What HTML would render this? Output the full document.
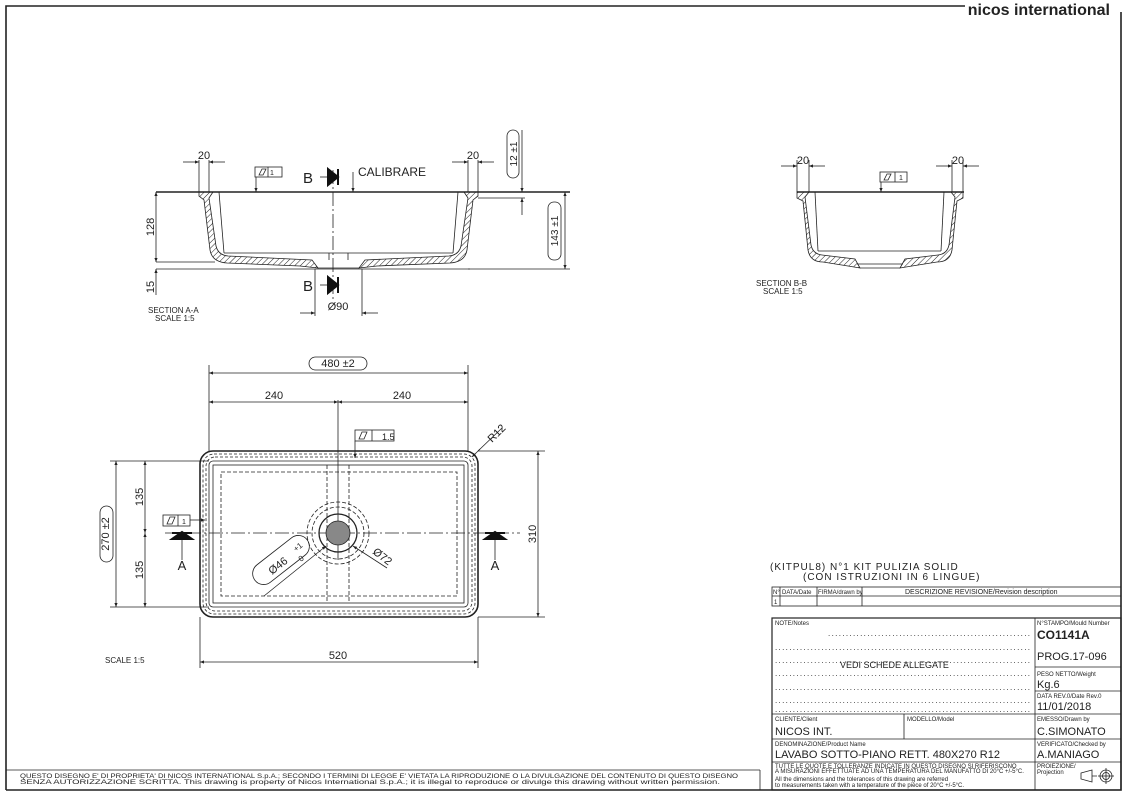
<!DOCTYPE html>
<html><head><meta charset="utf-8"><style>
html,body{margin:0;padding:0;background:#fff;}
svg{display:block;font-family:"Liberation Sans",sans-serif;}
text{fill:#222;}
.t{font-size:11px;}
.s{font-size:6px;}
</style></head><body>
<svg width="1129" height="798" viewBox="0 0 1129 798" xmlns="http://www.w3.org/2000/svg">
<defs>
<pattern id="h" width="4" height="4" patternUnits="userSpaceOnUse" patternTransform="rotate(45)"><line x1="0" y1="0" x2="0" y2="4" stroke="#222" stroke-width="1"/></pattern>
<marker id="a" viewBox="0 0 10 10" refX="10" refY="5" markerWidth="7" markerHeight="5" orient="auto-start-reverse"><path d="M0,1 L10,5 L0,9z" fill="#222"/></marker>
</defs>
<g stroke="#222" fill="none">
<path d="M6,790 V6 H965 M1121,12 V790 H6" stroke-width="1.6"/>
</g>
<text x="1110" y="15" text-anchor="end" style="font-size:16px;font-weight:bold" fill="#111">nicos international</text>

<!-- SECTION A-A -->
<g stroke="#222" fill="none" stroke-width="0.8">
<line x1="156" y1="192" x2="570" y2="192" stroke-width="1.5"/>
<path d="M199,192 H213 L209,198 L216,246 Q218,255 228,256 L312,260 L318,268 L300,266 L227,263 Q212,262 210,250 L204,200 L199,196 Z" fill="url(#h)"/>
<path d="M478,192 H464 L468,198 L461,246 Q459,255 449,256 L365,260 L359,268 L377,266 L450,263 Q465,262 467,250 L473,200 L478,196 Z" fill="url(#h)"/>
<line x1="318" y1="268" x2="359" y2="268"/>
<line x1="219" y1="192" x2="224" y2="253"/><line x1="458" y1="192" x2="453" y2="253"/>
<line x1="224" y1="253" x2="453" y2="253"/>
<line x1="329" y1="253" x2="329" y2="260"/><line x1="348" y1="253" x2="348" y2="260"/>
<line x1="156" y1="262" x2="215" y2="262"/><line x1="156" y1="269" x2="470" y2="269"/>
<line x1="156" y1="192" x2="156" y2="262" marker-start="url(#a)" marker-end="url(#a)"/>
<line x1="156" y1="269" x2="156" y2="295" marker-start="url(#a)"/>
<line x1="333" y1="170" x2="333" y2="300" stroke-dasharray="14,3,2,3"/>
<line x1="478" y1="198" x2="525" y2="198"/>
<line x1="565" y1="192" x2="565" y2="269" marker-start="url(#a)" marker-end="url(#a)"/>
<line x1="468" y1="269" x2="570" y2="269"/>
<line x1="522" y1="130" x2="522" y2="192" marker-end="url(#a)"/>
<line x1="522" y1="215" x2="522" y2="198" marker-end="url(#a)"/>
<rect x="507" y="130" width="12" height="48" rx="6"/>
<rect x="548" y="202" width="13" height="58" rx="6"/>
<line x1="199" y1="160" x2="199" y2="192"/><line x1="209" y1="160" x2="209" y2="192"/>
<line x1="183" y1="162" x2="199" y2="162" marker-end="url(#a)"/><line x1="225" y1="162" x2="209" y2="162" marker-end="url(#a)"/>
<line x1="468" y1="160" x2="468" y2="192"/><line x1="478" y1="160" x2="478" y2="192"/>
<line x1="452" y1="162" x2="468" y2="162" marker-end="url(#a)"/><line x1="494" y1="162" x2="478" y2="162" marker-end="url(#a)"/>
<rect x="255" y="167" width="27" height="10"/><line x1="268" y1="167" x2="268" y2="177"/>
<path d="M259,175 L262,169 L266,169 L263,175z"/>
<line x1="256" y1="177" x2="256" y2="192" marker-end="url(#a)"/>
<line x1="353" y1="172" x2="353" y2="192" marker-end="url(#a)"/>
<line x1="315" y1="269" x2="315" y2="316"/><line x1="362" y1="269" x2="362" y2="316"/>
<line x1="300" y1="313" x2="315" y2="313" marker-end="url(#a)"/><line x1="378" y1="313" x2="362" y2="313" marker-end="url(#a)"/>
<line x1="320" y1="177" x2="328" y2="177"/><line x1="320" y1="285" x2="328" y2="285"/>
</g>
<path d="M328,169 L338,177 L328,185z M338,169 V185" fill="#111" stroke="#111" stroke-width="2"/>
<path d="M328,277 L338,285 L328,293z M338,277 V293" fill="#111" stroke="#111" stroke-width="2"/>
<text x="303" y="183" style="font-size:15px">B</text><text x="303" y="291" style="font-size:15px">B</text>
<text x="358" y="176" style="font-size:12px">CALIBRARE</text>
<text x="204" y="159" class="t" text-anchor="middle">20</text><text x="473" y="159" class="t" text-anchor="middle">20</text>
<text x="270" y="175" style="font-size:7px">1</text>
<text x="338" y="310" class="t" text-anchor="middle">Ø90</text>
<text transform="translate(154,227) rotate(-90)" class="t" text-anchor="middle">128</text>
<text transform="translate(154,287) rotate(-90)" class="t" text-anchor="middle">15</text>
<text transform="translate(517,154) rotate(-90)" style="font-size:10px" text-anchor="middle">12 ±1</text>
<text transform="translate(558,231) rotate(-90)" style="font-size:10px" text-anchor="middle">143 ±1</text>
<text x="148" y="313" style="font-size:8px">SECTION A-A</text><text x="155" y="321" style="font-size:8px">SCALE 1:5</text>

<!-- SECTION B-B -->
<g stroke="#222" fill="none" stroke-width="0.8">
<line x1="797" y1="192" x2="964" y2="192" stroke-width="1.5"/>
<path d="M797,192 H809 L805,197 L811,245 Q813,254 822,255 L855,259 L860,268 L848,266 L823,262 Q810,262 808,250 L803,201 L797,198 Z" fill="url(#h)"/>
<path d="M963,192 H951 L955,197 L949,245 Q947,254 938,255 L905,259 L900,268 L912,266 L937,262 Q950,262 952,250 L957,201 L963,198 Z" fill="url(#h)"/>
<line x1="860" y1="268" x2="900" y2="268"/><line x1="857" y1="264" x2="903" y2="264"/>
<line x1="815" y1="192" x2="818" y2="251"/><line x1="944" y1="192" x2="941" y2="251"/>
<line x1="818" y1="251" x2="941" y2="251"/>
<line x1="797" y1="160" x2="797" y2="192"/><line x1="809" y1="160" x2="809" y2="192"/>
<line x1="781" y1="166" x2="797" y2="166" marker-end="url(#a)"/><line x1="825" y1="166" x2="809" y2="166" marker-end="url(#a)"/>
<line x1="952" y1="160" x2="952" y2="192"/><line x1="963" y1="160" x2="963" y2="192"/>
<line x1="936" y1="166" x2="952" y2="166" marker-end="url(#a)"/><line x1="979" y1="166" x2="963" y2="166" marker-end="url(#a)"/>
<rect x="880" y="172" width="27" height="10"/><line x1="895" y1="172" x2="895" y2="182"/>
<path d="M884,180 L887,174 L891,174 L888,180z"/>
<line x1="881" y1="182" x2="881" y2="192" marker-end="url(#a)"/>
</g>
<text x="803" y="164" class="t" text-anchor="middle">20</text><text x="958" y="164" class="t" text-anchor="middle">20</text>
<text x="899" y="180" style="font-size:7px">1</text>
<text x="756" y="286" style="font-size:8px">SECTION B-B</text><text x="763" y="294" style="font-size:8px">SCALE 1:5</text>

<!-- PLAN VIEW -->
<g stroke="#222" fill="none" stroke-width="0.8">
<rect x="200" y="451" width="278" height="166" rx="13" stroke-width="1.6"/>
<rect x="203" y="454" width="272" height="160" rx="11" stroke-dasharray="3,2"/>
<rect x="206" y="457" width="266" height="154" rx="9" stroke-dasharray="3,2"/>
<rect x="209" y="461" width="259" height="146" rx="4"/>
<rect x="213" y="465" width="251" height="138"/>
<rect x="221" y="472" width="236" height="124" stroke-dasharray="4,2"/>
<line x1="327" y1="465" x2="327" y2="603" stroke-dasharray="4,2"/><line x1="349" y1="465" x2="349" y2="603" stroke-dasharray="4,2"/>
<line x1="165" y1="533" x2="520" y2="533" stroke-dasharray="14,3,2,3"/>
<line x1="338" y1="400" x2="338" y2="560"/>
<circle cx="338" cy="533" r="19" stroke-width="1.3"/>
<circle cx="338" cy="533" r="26" stroke-dasharray="4,2"/>
<circle cx="338" cy="533" r="31" stroke-dasharray="4,2"/>
<circle cx="338" cy="533" r="12" fill="#888"/>
<line x1="209" y1="365" x2="209" y2="451"/><line x1="468" y1="365" x2="468" y2="451"/>
<line x1="209" y1="373" x2="468" y2="373" marker-start="url(#a)" marker-end="url(#a)"/>
<line x1="209" y1="402" x2="338" y2="402" marker-start="url(#a)" marker-end="url(#a)"/>
<line x1="338" y1="402" x2="468" y2="402" marker-start="url(#a)" marker-end="url(#a)"/>
<rect x="309" y="357" width="58" height="13" rx="6.5"/>
<line x1="200" y1="617" x2="200" y2="668"/><line x1="478" y1="617" x2="478" y2="668"/>
<line x1="200" y1="662" x2="478" y2="662" marker-start="url(#a)" marker-end="url(#a)"/>
<line x1="478" y1="451" x2="545" y2="451"/><line x1="478" y1="617" x2="545" y2="617"/>
<line x1="538" y1="451" x2="538" y2="617" marker-start="url(#a)" marker-end="url(#a)"/>
<line x1="110" y1="461" x2="209" y2="461"/><line x1="110" y1="607" x2="209" y2="607"/>
<line x1="116" y1="461" x2="116" y2="607" marker-start="url(#a)" marker-end="url(#a)"/>
<line x1="145" y1="461" x2="145" y2="533" marker-start="url(#a)" marker-end="url(#a)"/>
<line x1="145" y1="533" x2="145" y2="607" marker-start="url(#a)" marker-end="url(#a)"/>
<rect x="100" y="506" width="13" height="56" rx="6.5"/>
<rect x="355" y="430" width="39" height="11"/><line x1="372" y1="430" x2="372" y2="441"/>
<path d="M359,439 L362,432 L367,432 L364,439z"/>
<line x1="355" y1="441" x2="355" y2="458" marker-end="url(#a)"/>
<rect x="163" y="515" width="27" height="11"/><line x1="178" y1="515" x2="178" y2="526"/>
<path d="M167,524 L170,517 L175,517 L172,524z"/>
<line x1="190" y1="520" x2="205" y2="520" marker-end="url(#a)"/>
<line x1="478" y1="451" x2="502" y2="428"/>
<line x1="480" y1="449" x2="472" y2="457" marker-end="url(#a)"/>
<line x1="264" y1="596" x2="326" y2="546" marker-end="url(#a)"/>
<line x1="387" y1="568" x2="353" y2="546" marker-end="url(#a)"/>
<rect x="248" y="549" width="66" height="22" rx="11" transform="rotate(-38 281 560)"/>
<line x1="182" y1="540" x2="182" y2="560"/><line x1="495" y1="540" x2="495" y2="560"/>
</g>
<path d="M172,539 L192,539 L182,532z M172,533 H192" fill="#111" stroke="#111" stroke-width="2"/>
<path d="M485,539 L505,539 L495,532z M485,533 H505" fill="#111" stroke="#111" stroke-width="2"/>
<text x="182" y="570" style="font-size:13px" text-anchor="middle">A</text>
<text x="495" y="570" style="font-size:13px" text-anchor="middle">A</text>
<text x="338" y="367" class="t" text-anchor="middle">480 ±2</text>
<text x="274" y="399" class="t" text-anchor="middle">240</text><text x="402" y="399" class="t" text-anchor="middle">240</text>
<text x="338" y="659" class="t" text-anchor="middle">520</text>
<text x="382" y="440" style="font-size:9px">1.5</text>
<text x="182" y="524" style="font-size:7px">1</text>
<text transform="translate(492,443) rotate(-45)" class="t">R12</text>
<text transform="translate(109,534) rotate(-90)" class="t" text-anchor="middle">270 ±2</text>
<text transform="translate(143,497) rotate(-90)" class="t" text-anchor="middle">135</text>
<text transform="translate(143,570) rotate(-90)" class="t" text-anchor="middle">135</text>
<text transform="translate(536,534) rotate(-90)" class="t" text-anchor="middle">310</text>
<text transform="translate(372,553) rotate(38)" class="t">Ø72</text>
<text transform="translate(272,575) rotate(-38)" class="t">Ø46</text>
<text transform="translate(296,552) rotate(-38)" style="font-size:8px">+1</text>
<text transform="translate(301,562) rotate(-38)" style="font-size:8px">0</text>
<text x="105" y="663" style="font-size:8px">SCALE 1:5</text>

<!-- TITLE BLOCK -->
<text x="770" y="570" style="font-size:10px;letter-spacing:1px">(KITPUL8) N°1 KIT PULIZIA SOLID</text>
<text x="803" y="580" style="font-size:10px;letter-spacing:1px">(CON ISTRUZIONI IN 6 LINGUE)</text>
<g stroke="#222" fill="none" stroke-width="0.8">
<rect x="772" y="587" width="349" height="19"/><line x1="772" y1="596" x2="1121" y2="596"/>
<line x1="780" y1="587" x2="780" y2="606"/><line x1="817" y1="587" x2="817" y2="606"/><line x1="862" y1="587" x2="862" y2="606"/>
<rect x="772" y="618" width="349" height="172" stroke-width="1.2"/>
<line x1="1035" y1="618" x2="1035" y2="790"/>
<line x1="772" y1="714" x2="1121" y2="714"/><line x1="772" y1="739" x2="1121" y2="739"/><line x1="772" y1="762" x2="1121" y2="762"/>
<line x1="904" y1="714" x2="904" y2="739"/>
<line x1="1035" y1="667" x2="1121" y2="667"/><line x1="1035" y1="691" x2="1121" y2="691"/>
<line x1="6" y1="770" x2="760" y2="770"/><line x1="760" y1="770" x2="760" y2="790"/>
<path d="M1081,773 L1092,770 L1092,782 L1081,779z M1092,776 H1097" />
<circle cx="1106" cy="776" r="6"/><circle cx="1106" cy="776" r="3.5"/>
<line x1="1098" y1="776" x2="1114" y2="776"/><line x1="1106" y1="768" x2="1106" y2="784"/>
</g>
<g class="s" style="font-size:6px">
<text x="773" y="594">N°</text><text x="782" y="594">DATA/Date</text><text x="818" y="594">FIRMA/drawn by</text>
<text x="905" y="594" style="font-size:7px">DESCRIZIONE REVISIONE/Revision description</text>
<text x="774" y="604">1</text>
<text x="775" y="625">NOTE/Notes</text>
<text x="1037" y="625">N°STAMPO/Mould Number</text>
<text x="1037" y="676">PESO NETTO/Weight</text>
<text x="1037" y="698">DATA REV.0/Date Rev.0</text>
<text x="775" y="721">CLIENTE/Client</text><text x="907" y="721">MODELLO/Model</text>
<text x="1037" y="721">EMESSO/Drawn by</text>
<text x="775" y="746">DENOMINAZIONE/Product Name</text>
<text x="1037" y="746">VERIFICATO/Checked by</text>
<text x="775" y="768">TUTTE LE QUOTE E TOLLERANZE INDICATE IN QUESTO DISEGNO SI RIFERISCONO</text>
<text x="775" y="773">A MISURAZIONI EFFETTUATE AD UNA TEMPERATURA DEL MANUFATTO DI 20°C +/-5°C.</text>
<text x="775" y="781">All the dimensions and the tolerances of this drawing are referred</text>
<text x="775" y="787">to measurements taken with a temperature of the piece of 20°C +/-5°C.</text>
<text x="1037" y="768">PROIEZIONE/</text><text x="1037" y="774">Projection</text>
<text x="20" y="778" textLength="718" lengthAdjust="spacingAndGlyphs">QUESTO DISEGNO E' DI PROPRIETA' DI NICOS INTERNATIONAL S.p.A.; SECONDO I TERMINI DI LEGGE E' VIETATA LA RIPRODUZIONE O LA DIVULGAZIONE DEL CONTENUTO DI QUESTO DISEGNO</text>
<text x="20" y="784" textLength="700" lengthAdjust="spacingAndGlyphs">SENZA AUTORIZZAZIONE SCRITTA. This drawing is property of Nicos International S.p.A.; it is illegal to reproduce or divulge this drawing without written permission.</text>
</g>
<g style="font-size:8px" fill="#444">
<text x="828" y="636" textLength="202">.........................................................</text>
<text x="775" y="650" textLength="255">........................................................................</text>
<text x="775" y="663" textLength="255">........................................................................</text>
<text x="775" y="676" textLength="255">........................................................................</text>
<text x="775" y="690" textLength="255">........................................................................</text>
<text x="775" y="703" textLength="255">........................................................................</text>
<text x="775" y="712" textLength="255">........................................................................</text>
</g>
<text x="840" y="668" style="font-size:9px">VEDI SCHEDE ALLEGATE</text>
<text x="1037" y="639" style="font-size:12px;font-weight:bold">CO1141A</text>
<text x="1037" y="660" style="font-size:11px">PROG.17-096</text>
<text x="1037" y="688" style="font-size:11px">Kg.6</text>
<text x="1037" y="710" style="font-size:11px">11/01/2018</text>
<text x="775" y="735" style="font-size:11px">NICOS INT.</text>
<text x="1037" y="735" style="font-size:11px">C.SIMONATO</text>
<text x="775" y="758" style="font-size:11px">LAVABO SOTTO-PIANO RETT. 480X270 R12</text>
<text x="1037" y="758" style="font-size:11px">A.MANIAGO</text>
</svg>
</body></html>
